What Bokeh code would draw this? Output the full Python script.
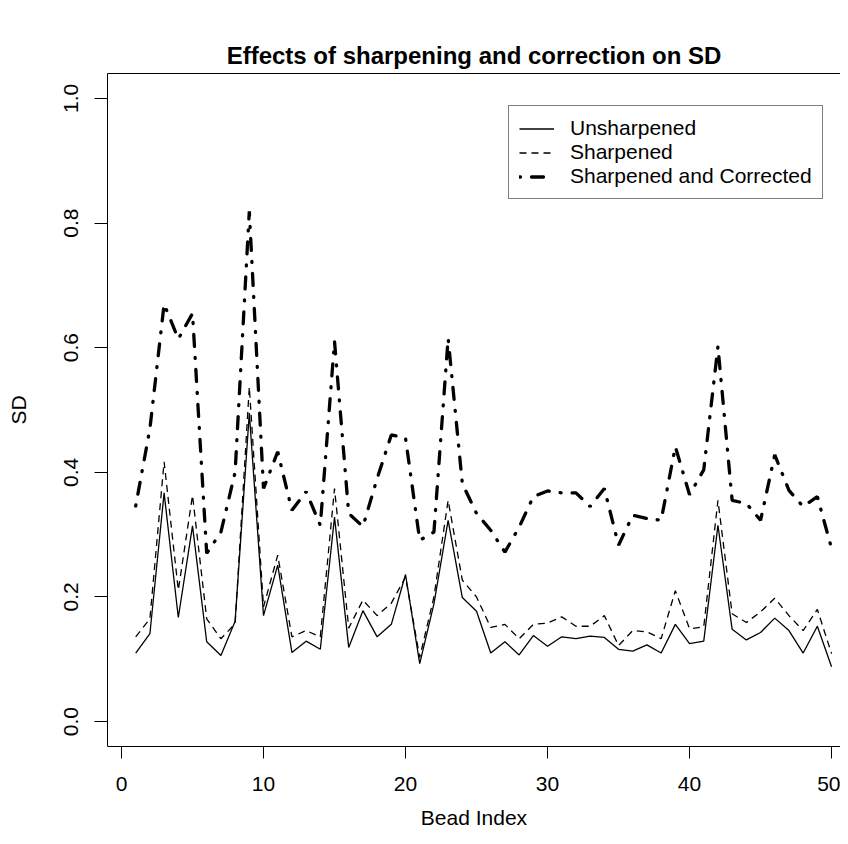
from bokeh.plotting import figure
from bokeh.models import Range1d, LinearAxis, FixedTicker, NumeralTickFormatter, Legend, LegendItem, Title
from bokeh.embed import file_html
from bokeh.resources import INLINE

bead_index = list(range(1, 51))

unsharpened = [0.110, 0.141, 0.367, 0.167, 0.314, 0.128, 0.106, 0.161, 0.495, 0.170,
               0.251, 0.111, 0.129, 0.116, 0.328, 0.119, 0.178, 0.136, 0.156, 0.236,
               0.093, 0.189, 0.323, 0.199, 0.177, 0.110, 0.128, 0.107, 0.138, 0.121,
               0.136, 0.133, 0.137, 0.135, 0.116, 0.113, 0.123, 0.110, 0.156, 0.125,
               0.129, 0.315, 0.148, 0.131, 0.143, 0.166, 0.146, 0.110, 0.153, 0.088]

sharpened = [0.136, 0.165, 0.417, 0.211, 0.363, 0.165, 0.133, 0.157, 0.537, 0.184,
             0.267, 0.136, 0.146, 0.136, 0.374, 0.150, 0.195, 0.170, 0.190, 0.232,
             0.103, 0.200, 0.355, 0.227, 0.200, 0.151, 0.156, 0.133, 0.156, 0.158,
             0.168, 0.153, 0.153, 0.170, 0.122, 0.146, 0.144, 0.133, 0.210, 0.149,
             0.152, 0.355, 0.173, 0.159, 0.176, 0.198, 0.170, 0.146, 0.180, 0.109]

corrected = [0.346, 0.470, 0.670, 0.614, 0.655, 0.270, 0.304, 0.400, 0.819, 0.374,
             0.433, 0.339, 0.369, 0.315, 0.610, 0.334, 0.313, 0.390, 0.460, 0.455,
             0.291, 0.304, 0.615, 0.382, 0.334, 0.307, 0.272, 0.312, 0.361, 0.370,
             0.367, 0.367, 0.345, 0.374, 0.283, 0.331, 0.326, 0.323, 0.441, 0.364,
             0.404, 0.602, 0.355, 0.350, 0.323, 0.428, 0.371, 0.345, 0.361, 0.278]

x_ticks = [0, 10, 20, 30, 40, 50]
y_ticks = [0.0, 0.2, 0.4, 0.6, 0.8, 1.0]
series_labels = ["Unsharpened", "Sharpened", "Sharpened and Corrected"]
title_text = "Effects of sharpening and correction on SD"

FONT = "Liberation Sans"

p = figure(width=840, height=836, output_backend="svg", toolbar_location=None,
           x_range=Range1d(-0.986, 50.63), y_range=Range1d(-0.04, 1.04),
           min_border_left=107, min_border_right=0, min_border_top=73, min_border_bottom=90,
           x_axis_label="Bead Index", y_axis_label="SD")
p.outline_line_color = None
p.background_fill_color = "white"
p.border_fill_color = "white"
p.xgrid.visible = False
p.ygrid.visible = False

p.title.text = title_text
p.title.text_font = FONT
p.title.text_font_size = "24px"
p.title.text_font_style = "bold"
p.title.align = "center"
p.title.text_color = "black"
p.title.standoff = 10

xa = p.below[0]
xa.ticker = FixedTicker(ticks=x_ticks)
xa.major_tick_out = 12
xa.major_tick_in = 0
xa.minor_tick_out = 0
xa.minor_tick_in = 0
xa.major_label_standoff = 18
xa.major_label_text_font = FONT
xa.major_label_text_font_size = "21px"
xa.major_label_text_color = "black"
xa.axis_label_text_font = FONT
xa.axis_label_text_font_size = "21px"
xa.axis_label_text_font_style = "normal"
xa.axis_label_text_color = "black"
xa.axis_label_standoff = 12
xa.axis_line_color = "black"
xa.major_tick_line_color = "black"

ya = p.left[0]
ya.ticker = FixedTicker(ticks=y_ticks)
ya.formatter = NumeralTickFormatter(format="0.0")
ya.major_label_orientation = "vertical"
ya.major_tick_out = 13
ya.major_tick_in = 0
ya.minor_tick_out = 0
ya.minor_tick_in = 0
ya.major_label_standoff = 16
ya.major_label_text_font = FONT
ya.major_label_text_font_size = "21px"
ya.major_label_text_color = "black"
ya.axis_label_text_font = FONT
ya.axis_label_text_font_size = "21px"
ya.axis_label_text_font_style = "normal"
ya.axis_label_text_color = "black"
ya.axis_label_standoff = 32
ya.axis_line_color = "black"
ya.major_tick_line_color = "black"

# top frame border (no ticks, no labels)
top = LinearAxis(ticker=FixedTicker(ticks=[]), major_label_text_font_size="0px",
                 major_label_standoff=0,
                 major_tick_out=0, major_tick_in=0, minor_tick_out=0, minor_tick_in=0,
                 axis_line_color="black", axis_line_width=1)
p.add_layout(top, "above")
# invisible spacer between the frame and the title
spacer = Title(text=".", text_font=FONT, text_font_size="10px", text_alpha=0, standoff=14)
p.add_layout(spacer, "above")

r1 = p.line(bead_index, unsharpened, line_color="black", line_width=1.3)
r2 = p.line(bead_index, sharpened, line_color="black", line_width=1.3, line_dash="7 5")
r3 = p.line(bead_index, corrected, line_color="black", line_width=3.3,
            line_dash="1 11 12 11", line_cap="round")

legend = Legend(items=[LegendItem(label=series_labels[0], renderers=[r1]),
                       LegendItem(label=series_labels[1], renderers=[r2]),
                       LegendItem(label=series_labels[2], renderers=[r3])],
                location=(401, 547))
legend.label_text_font = FONT
legend.label_text_font_size = "21px"
legend.label_text_color = "black"
legend.glyph_width = 35
legend.glyph_height = 23
legend.label_height = 23
legend.label_standoff = 16
legend.spacing = 0
legend.padding = 10
legend.margin = 0
legend.border_line_color = "black"
legend.border_line_width = 1
legend.background_fill_alpha = 1
p.add_layout(legend, "center")

open("out.html", "w").write(file_html(p, INLINE))
